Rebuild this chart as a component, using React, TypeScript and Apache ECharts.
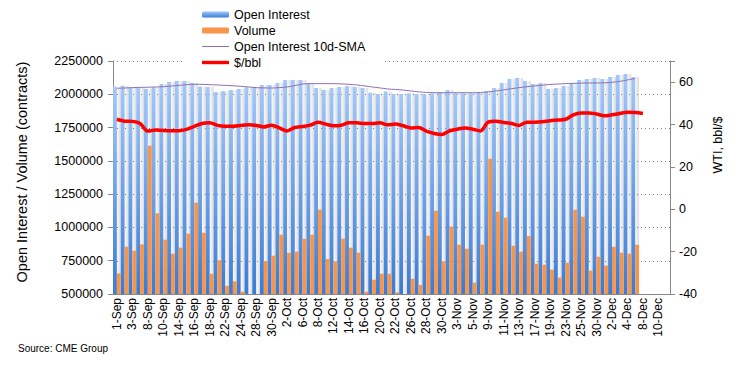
import React, { useEffect, useRef } from "react";
import * as echarts from "echarts";

const categories = [
  "1-Sep","2-Sep","3-Sep","4-Sep","8-Sep","9-Sep","10-Sep","11-Sep","14-Sep","15-Sep","16-Sep","17-Sep","18-Sep","21-Sep","22-Sep","23-Sep","24-Sep","25-Sep","28-Sep","29-Sep","30-Sep",
  "1-Oct","2-Oct","5-Oct","6-Oct","7-Oct","8-Oct","9-Oct","12-Oct","13-Oct","14-Oct","15-Oct","16-Oct","19-Oct","20-Oct","21-Oct","22-Oct","23-Oct","26-Oct","27-Oct","28-Oct","29-Oct","30-Oct",
  "2-Nov","3-Nov","4-Nov","5-Nov","6-Nov","9-Nov","10-Nov","11-Nov","12-Nov","13-Nov","16-Nov","17-Nov","18-Nov","19-Nov","20-Nov","23-Nov","24-Nov","25-Nov","27-Nov","30-Nov",
  "1-Dec","2-Dec","3-Dec","4-Dec","7-Dec","8-Dec","9-Dec","10-Dec","11-Dec",
];

// thousands of contracts
const openInterestK = [
  2057,2064,2052,2050,2042,2052,2077,2092,2100,2100,2085,2057,2055,2017,2025,2032,2040,2052,
  2052,2070,2070,2085,2107,2107,2107,2082,2047,2032,2047,2055,2062,2055,2047,2012,2002,2020,
  2002,2002,2007,2002,2002,2007,2015,2032,2007,2007,2007,2017,2025,2047,2085,2115,2122,2100,
  2077,2085,2040,2047,2062,2085,2107,2115,2122,2115,2130,2145,2152,2130,
];

const volumeK = [
  655,855,825,873,1614,1106,908,803,848,953,1186,960,652,753,562,595,517,470,
  480,748,788,945,810,818,915,945,1133,763,745,915,848,810,517,607,652,652,
  513,490,615,568,938,1126,745,1006,870,840,585,870,1516,1118,1073,863,818,935,
  728,720,683,623,735,1133,1081,675,780,713,855,810,803,870,
];

const smaK = [
  2045,2047,2050,2052,2053,2055,2057,2062,2067,2072,2075,2075,2072,2070,2067,2064,2060,2055,
  2050,2048,2047,2050,2055,2065,2077,2080,2080,2080,2080,2078,2075,2070,2063,2055,2048,2040,
  2036,2032,2025,2018,2014,2012,2012,2012,2012,2012,2012,2013,2018,2025,2033,2042,2050,2057,
  2063,2068,2074,2077,2080,2082,2084,2085,2085,2086,2090,2097,2108,2118,
];

const priceUsd = [
  42.5,41.6,41.5,40.5,36.9,37.4,37.2,37.1,37.1,37.7,39.1,40.5,40.8,39.6,39.2,39.2,39.6,39.9,
  39.6,38.9,39.7,38.4,37.0,38.6,39.1,39.7,41.1,40.2,39.4,39.7,40.8,40.8,40.5,40.5,40.8,39.9,
  40.2,39.4,38.4,38.6,36.9,35.8,35.3,37.0,37.8,38.4,37.8,37.0,41.1,41.5,41.0,40.5,39.6,41.1,
  41.1,41.3,41.8,42.1,42.5,44.6,45.5,45.5,45.0,44.1,44.6,45.2,45.8,45.7,45.2,
];

const leftTicks = { min: 500000, max: 2250000, interval: 250000 };
const rightTicks = { min: -40, max: 70, interval: 20, lastLabel: 60 };

const FONT = "'Liberation Sans', Arial, Helvetica, sans-serif";

const thinLineIcon = "path://M0,0L0,0M0,2.5L27,2.5L27,3.5L0,3.5ZM27,6L27,6";
const thickLineIcon = "path://M0,0L0,0M0,1.3L27,1.3L27,4.7L0,4.7ZM27,6L27,6";

export default function App() {
  const ref = useRef<HTMLDivElement>(null);

  useEffect(() => {
    document.body.style.margin = "0";
    if (!ref.current) return;
    const chart = echarts.init(ref.current, null, { renderer: "svg" });

    const oi = openInterestK.map((v) => v * 1000);
    const vol = volumeK.map((v) => v * 1000);
    const sma = smaK.map((v) => v * 1000);

    const gridValues: number[] = [];
    for (let v = leftTicks.min + leftTicks.interval; v <= leftTicks.max; v += leftTicks.interval) {
      gridValues.push(v);
    }

    const blueGrad = new echarts.graphic.LinearGradient(0, 0, 0, 1, [
      { offset: 0, color: "#a3c8f9" },
      { offset: 1, color: "#3b7bd4" },
    ]);
    const greyGrad = new echarts.graphic.LinearGradient(0, 0, 1, 0, [
      { offset: 0, color: "rgba(250,250,250,0.8)" },
      { offset: 1, color: "rgba(210,210,210,0.8)" },
    ]);

    const texts: any[] = [
      {
        type: "text",
        x: 22,
        y: 172,
        rotation: Math.PI / 2,
        style: {
          text: "Open Interest / Volume (contracts)",
          fontSize: 14.5,
          fill: "#000",
          fontFamily: FONT,
          textAlign: "center",
          textVerticalAlign: "middle",
        },
      },
      {
        type: "text",
        x: 718,
        y: 145,
        rotation: Math.PI / 2,
        style: {
          text: "WTI, bbl/$",
          fontSize: 12.5,
          fill: "#000",
          fontFamily: FONT,
          textAlign: "center",
          textVerticalAlign: "middle",
        },
      },
      {
        type: "text",
        left: 18,
        top: 343,
        style: { text: "Source: CME Group", fontSize: 10, fill: "#000", fontFamily: FONT },
      },
    ];

    chart.setOption({
      animation: false,
      backgroundColor: "#ffffff",
      textStyle: { fontFamily: FONT },
      grid: { left: 113, right: 71, top: 61, bottom: 74, containLabel: false },
      legend: {
        orient: "vertical",
        left: 185,
        top: 3,
        padding: [5, 17, 4, 17],
        backgroundColor: "#ffffff",
        itemWidth: 27,
        itemHeight: 6,
        itemGap: 3,
        itemTextGap: 14,
        textStyle: { fontSize: 12.5, color: "#000", fontFamily: FONT },
        data: [
          { name: "Open Interest" },
          { name: "Volume" },
          { name: "Open Interest 10d-SMA", icon: thinLineIcon, itemStyle: { color: "#8c6fb0", borderWidth: 0 } },
          { name: "$/bbl", icon: thickLineIcon, itemStyle: { color: "#ff0000", borderWidth: 0 } },
        ],
      },
      xAxis: [
        {
          type: "category",
          data: categories,
          boundaryGap: true,
          axisLine: { onZero: false, lineStyle: { color: "#888" } },
          axisTick: { interval: 0, length: 4, lineStyle: { color: "#888" } },
          axisLabel: {
            interval: 1,
            rotate: 90,
            fontSize: 12,
            color: "#000",
            margin: 4,
            fontFamily: FONT,
          },
          splitLine: { show: false },
        },
        {
          type: "category",
          data: categories,
          show: false,
          axisLine: { onZero: false },
        },
      ],
      yAxis: [
        {
          type: "value",
          min: leftTicks.min,
          max: leftTicks.max,
          interval: leftTicks.interval,
          axisLine: { show: true, lineStyle: { color: "#888" } },
          axisTick: { show: true, length: 5, lineStyle: { color: "#888" } },
          axisLabel: {
            fontSize: 12.5,
            color: "#000",
            margin: 10,
            fontFamily: FONT,
            formatter: (v: number) => String(v),
          },
          splitLine: { show: false },
        },
        {
          type: "value",
          min: rightTicks.min,
          max: rightTicks.max,
          interval: rightTicks.interval,
          position: "right",
          axisLine: { show: true, onZero: false, lineStyle: { color: "#888" } },
          axisTick: { show: true, length: 5, lineStyle: { color: "#888" } },
          axisLabel: {
            fontSize: 12.5,
            color: "#000",
            margin: 9,
            fontFamily: FONT,
            formatter: (v: number) => (v > rightTicks.lastLabel ? "" : String(v)),
          },
          splitLine: { show: false },
        },
      ],
      series: [
        {
          name: "Open Interest",
          type: "bar",
          xAxisIndex: 0,
          yAxisIndex: 0,
          data: oi,
          barGap: "0%",
          barCategoryGap: "0%",
          itemStyle: { color: blueGrad },
          z: 2,
        },
        {
          name: "Volume",
          type: "bar",
          xAxisIndex: 0,
          yAxisIndex: 0,
          data: vol,
          barGap: "0%",
          barCategoryGap: "0%",
          itemStyle: { color: "#f7964a" },
          z: 4,
        },
        {
          name: "_pad",
          type: "bar",
          xAxisIndex: 1,
          yAxisIndex: 0,
          data: [],
          barGap: "0%",
          barCategoryGap: "0%",
          silent: true,
        },
        {
          name: "_oiShade",
          type: "bar",
          xAxisIndex: 1,
          yAxisIndex: 0,
          data: oi,
          barGap: "0%",
          barCategoryGap: "0%",
          itemStyle: { color: greyGrad },
          silent: true,
          z: 1.5,
        },
        {
          name: "Open Interest 10d-SMA",
          type: "line",
          xAxisIndex: 0,
          yAxisIndex: 0,
          data: sma,
          symbol: "none",
          smooth: 0.3,
          lineStyle: { color: "#8c6fb0", width: 1 },
          itemStyle: { color: "#8c6fb0" },
          z: 5,
        },
        {
          name: "$/bbl",
          type: "line",
          yAxisIndex: 1,
          data: priceUsd,
          symbol: "none",
          smooth: 0.3,
          lineStyle: { color: "#ff0000", width: 3.5 },
          itemStyle: { color: "#ff0000" },
          z: 6,
        },
      ],
      graphic: texts,
    });

    // Gridlines placed through the chart's own scales
    const cFirst = chart.convertToPixel({ xAxisIndex: 0 }, categories[0]) as number;
    const cSecond = chart.convertToPixel({ xAxisIndex: 0 }, categories[1]) as number;
    const cLast = chart.convertToPixel({ xAxisIndex: 0 }, categories[categories.length - 1]) as number;
    const half = (cSecond - cFirst) / 2;
    const gridLines = gridValues.map((v) => {
      const y = Math.round(chart.convertToPixel({ yAxisIndex: 0 }, v) as number) + 0.5;
      return {
        type: "line",
        z: 1.8,
        silent: true,
        shape: { x1: cFirst - half, y1: y, x2: cLast + half, y2: y },
        style: { stroke: "#808080", lineWidth: 1, lineDash: [1, 3] },
      };
    });
    chart.setOption({ graphic: [...texts, ...gridLines] });

    return () => chart.dispose();
  }, []);

  return <div ref={ref} style={{ width: 741, height: 368 }} />;
}
